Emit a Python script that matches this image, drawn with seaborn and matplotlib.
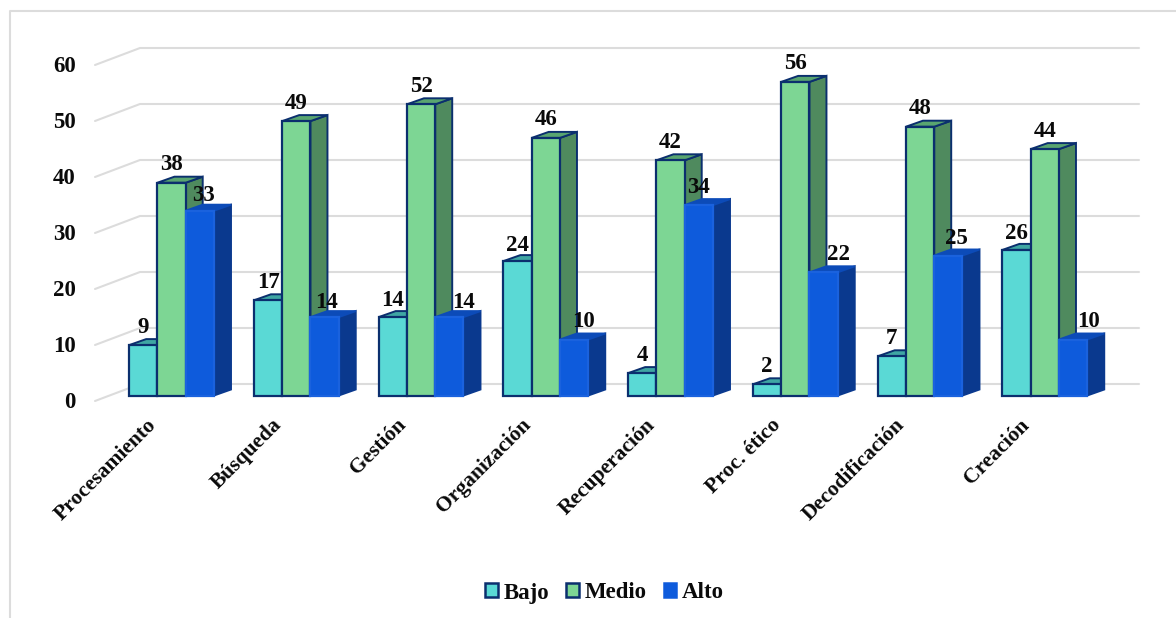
import pandas as pd
import seaborn as sns
import matplotlib.pyplot as plt
from matplotlib.lines import Line2D
from matplotlib.patches import Patch, Polygon
from matplotlib.transforms import ScaledTranslation

dimensiones = ["Procesamiento", "Búsqueda", "Gestión", "Organización",
               "Recuperación", "Proc. ético", "Decodificación", "Creación"]
niveles = ["Bajo", "Medio", "Alto"]
bajo = [9, 17, 14, 24, 4, 2, 7, 26]
medio = [38, 49, 52, 46, 42, 56, 48, 44]
alto = [33, 14, 14, 10, 34, 22, 25, 10]
y_ticks = [0, 10, 20, 30, 40, 50, 60]

colores = ["#5AD9D5", "#7DD694", "#0E5BDC"]
bordes = ["#0B2F6E", "#0B2F6E", "#1A62DE"]
laterales = ["#3E9A98", "#4F8A5E", "#0A398E"]
techos = ["#3FA6A3", "#59A570", "#0C4BB8"]

# label nudges in pixels, the original labels are not placed evenly
alto_nudge = [4, 2, 14, 9, 0, 15, 8, 15]
alto_baja = [3, 3, 3, 0, 0, 0, 1, 0]
bajo_baja = [0, 0, 1, 2, 0, 0, 0, 2]

df = pd.DataFrame({
    "Dimension": dimensiones * 3,
    "Nivel": [n for n in niveles for _ in dimensiones],
    "Valor": bajo + medio + alto,
})

sns.set_theme(style="white")
plt.rcParams["font.family"] = ["Liberation Serif", "DejaVu Serif"]
plt.rcParams["font.weight"] = "bold"

W, H = 1176, 618
LEFT, STEP = 109.2, 124.75   # pixels of the front plane
BASE, SCALE = 395.5, 5.6
fig = plt.figure(figsize=(W / 100, H / 100), dpi=100)
top_px = 48.5
ax = fig.add_axes([LEFT / W, 1 - BASE / H, STEP * 8 / W, (BASE - top_px) / H])

sns.barplot(data=df, x="Dimension", y="Valor", hue="Nivel", hue_order=niveles,
            palette=colores, width=0.68, gap=0, saturation=1, legend=False, ax=ax)
ax.set_xlim(-0.5, 7.5)
ax.set_ylim(0, (BASE - top_px) / SCALE)


def px_x(px):
    return -0.5 + (px - LEFT) / STEP


def px_y(py):
    return (BASE - py) / SCALE


# 3D look: side and top of every bar
dx = 17 / STEP
dy = 6 / SCALE
for i, cont in enumerate(ax.containers):
    z = 3 + i
    for bar, val in zip(cont, df[df["Nivel"] == niveles[i]]["Valor"]):
        x0, w = bar.get_x(), bar.get_width()
        x1 = x0 + w
        bar.set_edgecolor(bordes[i])
        bar.set_linewidth(1.6)
        bar.set_zorder(z + 0.5)
        bar.set_clip_on(False)
        side = Polygon([(x1, 0), (x1 + dx, dy), (x1 + dx, val + dy), (x1, val)],
                       fc=laterales[i], ec=bordes[i] if i < 2 else laterales[i],
                       lw=1.4, zorder=z, clip_on=False)
        roof = Polygon([(x0, val), (x0 + dx, val + dy), (x1 + dx, val + dy), (x1, val)],
                       fc=techos[i], ec=bordes[i] if i < 2 else techos[i],
                       lw=1.4, zorder=z, clip_on=False)
        ax.add_patch(side)
        ax.add_patch(roof)

# back wall and floor lines
for v in y_ticks:
    ax.plot([px_x(95), px_x(140), px_x(1139)],
            [v + px_y(401), v + px_y(384), v + px_y(384)],
            color="#DCDCDC", lw=1.5, zorder=1, clip_on=False)

# value labels
label_dy = 13
for i, serie in enumerate([bajo, medio, alto]):
    cont = ax.containers[i]
    for j, (bar, val) in enumerate(zip(cont, serie)):
        nudge = alto_nudge[j] if i == 2 else 0
        baja = alto_baja[j] if i == 2 else bajo_baja[j] if i == 0 else 0
        ax.annotate(str(val), (bar.get_x() + bar.get_width() / 2, val),
                    xytext=(nudge * 0.72, label_dy - baja * 0.72), textcoords="offset points",
                    ha="center", va="center", fontsize=16.5, fontweight="bold",
                    color="#0A0A0A", zorder=20)

ax.set_xlabel("")
ax.set_ylabel("")
ax.set_yticks(y_ticks)
ax.tick_params(axis="both", length=0)
ax.tick_params(axis="y", pad=24, labelsize=16.5, labelcolor="#0A0A0A")
ax.tick_params(axis="x", pad=12, labelsize=15.5, labelcolor="#0A0A0A")
for lab in ax.get_yticklabels():
    lab.set_transform(lab.get_transform() + ScaledTranslation(0, -4.5 / 100, fig.dpi_scale_trans))
plt.setp(ax.get_xticklabels(), rotation=45, ha="right", rotation_mode="anchor")
for lab in ax.get_xticklabels():
    lab.set_transform(lab.get_transform() + ScaledTranslation(-25 / 100, -3 / 100, fig.dpi_scale_trans))
sns.despine(ax=ax, left=True, bottom=True)
ax.patch.set_alpha(0)

handles = [Patch(fc=c, ec=b, lw=1.8) for c, b in zip(colores, ["#0B2F6E", "#0B2F6E", "#0E5BDC"])]
fig.legend(handles, niveles, loc="center", bbox_to_anchor=(604.5 / W, 1 - 593 / H), ncol=3,
           frameon=False, fontsize=16.5, handlelength=0.55, handleheight=0.55,
           handletextpad=0.25, columnspacing=0.75, labelcolor="#0A0A0A")

# outer chart frame, only top and left show
fig.add_artist(Line2D([10 / W, 10 / W, 1], [0, 1 - 11 / H, 1 - 11 / H], color="#DCDCDC", lw=1.5))

fig.savefig("out.png", dpi=100)
